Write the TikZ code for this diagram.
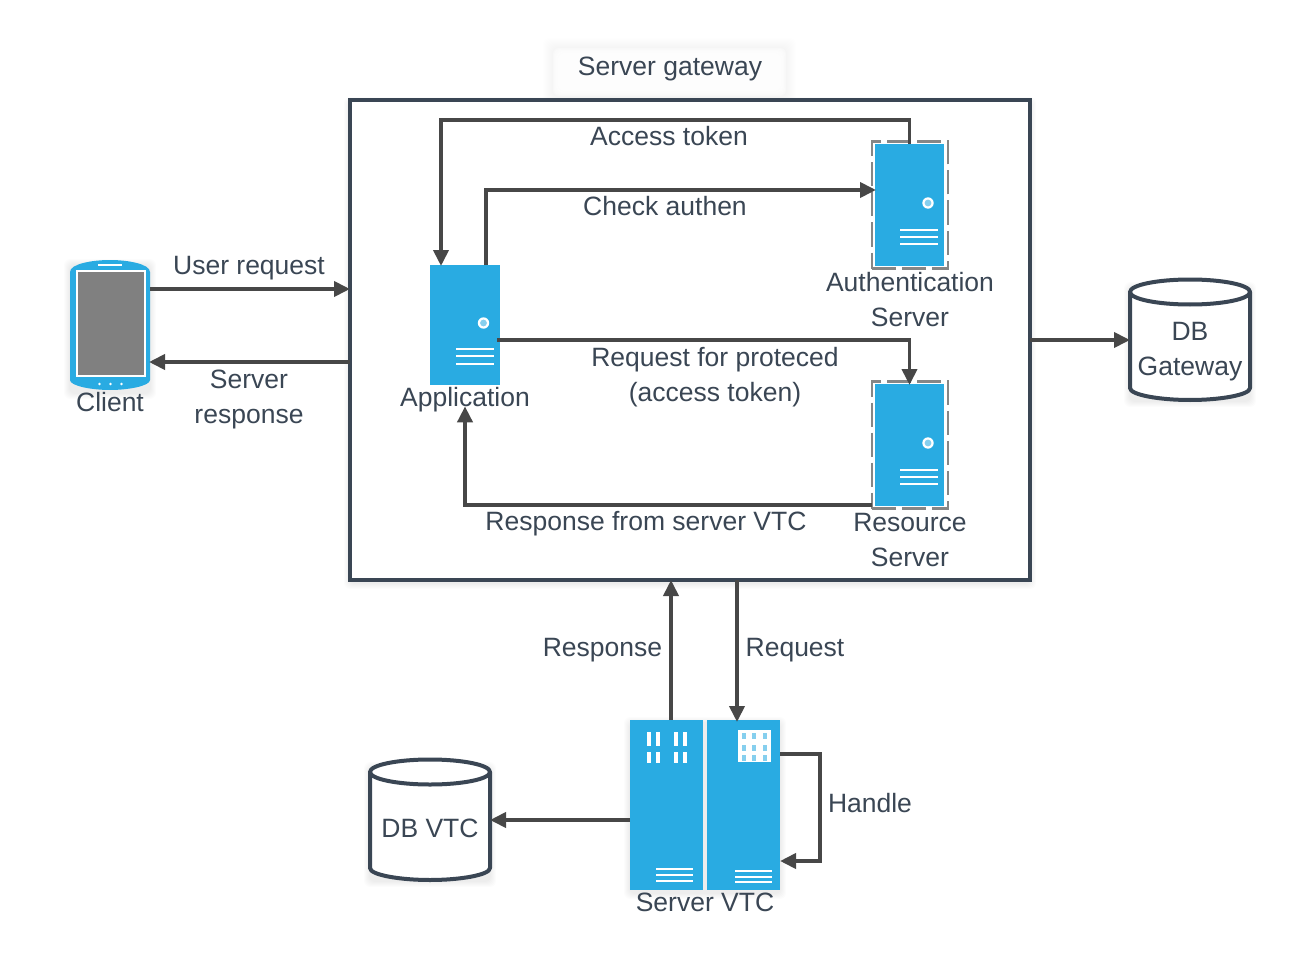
\documentclass[tikz,border=0pt]{standalone}
\usepackage{fontspec}
\setmainfont{Liberation Sans}
\usetikzlibrary{arrows.meta,calc}
\definecolor{lblue}{HTML}{29ABE2}
\definecolor{ink}{HTML}{3A4654}
\definecolor{wire}{HTML}{474747}
\definecolor{pale}{HTML}{86CFEE}
\newcommand{\softshade}[4]{%
  \foreach \g in {1,2,...,6}{%
    \fill[black,opacity=0.012,rounded corners=6pt] ({#1-\g},{#2-\g+3}) rectangle ({#3+\g},{#4+\g+3});}}
\tikzset{
  lbl/.style={text=ink,align=center,inner sep=0pt,outer sep=0pt,font=\fontsize{26.5}{35}\selectfont},
  bluebox/.style={fill=lblue,inner sep=0pt,outer sep=0pt,rectangle},
  arr/.style={draw=wire,line width=3.8pt,-{Triangle[length=16pt,width=15pt]}},
  dbline/.style={draw=ink,line width=4pt,line join=round},
  frame/.style={draw=ink,line width=4pt,inner sep=0pt,outer sep=0pt,minimum width=680,minimum height=480},
  dashbox/.style={draw=gray!95,line width=2.4pt,dash pattern=on 24pt off 6pt,fill=white,inner sep=0pt,outer sep=0pt},
  srvline/.style={draw=white,line width=2.8pt},
  ghost/.style={inner sep=0pt,outer sep=0pt,minimum width=120,minimum height=120}
}
\begin{document}
\begin{tikzpicture}[x=1pt,y=-1pt]
\useasboundingbox (0,0) rectangle (1290,960);
% soft shadows
\foreach \g in {0,1,...,9}{\fill[black,opacity=0.005,rounded corners=6pt] ({543+\g},{38+\g}) rectangle ({796-\g},{106-\g});}
\foreach \g in {10,11,...,16}{\fill[white,opacity=0.3,rounded corners=6pt] ({543+\g},{38+\g}) rectangle ({796-\g},{106-\g});}
\softshade{350}{100}{1030}{580}
\softshade{70}{262}{150}{390}
\softshade{430}{265}{500}{385}
\softshade{872}{142}{948}{269}
\softshade{872}{382}{948}{509}
\softshade{630}{720}{780}{890}
\softshade{1130}{285}{1250}{398}
\softshade{370}{765}{490}{878}
% gateway frame
\node[frame,fill=white] (gw) at (690,340) {};
\node[lbl] (gwl) at (670,69) {Server gateway};
% phone
\node[inner sep=0pt,outer sep=0pt,minimum width=80,minimum height=130] (phone) at (110,325) {};
\fill[lblue] (70,272) .. controls (70,264) and (92,260) .. (110,260) .. controls (128,260) and (150,264) .. (150,272)
  -- (150,380) .. controls (150,386) and (128,390) .. (110,390) .. controls (92,390) and (70,386) .. (70,380) -- cycle;
\fill[white] (76,270) rectangle (145.5,377);
\fill[black!50] (78,272) rectangle (143.5,375);
\draw[white,line width=1.8pt] (98,265) -- (122,265);
\foreach \xx in {99.5,110.5,121.5}{\fill[white] (\xx,384) circle (1.3);}
\node[lbl] (phonel) at (110,402) {Client};
% application
\node[bluebox,minimum width=70,minimum height=120] (app) at (465,325) {};
\fill[white] (483.5,323) circle (5.7);
\fill[pale] (483.5,323) circle (3.4);
\foreach \yy in {349,356,364}{\draw[srvline] (456,\yy) -- (493.5,\yy);}
\node[lbl] (appl) at (465,400) {Application};
% auth
\node[dashbox,minimum width=76,minimum height=127] (authd) at (910,205) {};
\node[bluebox,minimum width=69,minimum height=122] (auth) at (909.5,205) {};
\fill[white] (928,203) circle (5.7);
\fill[pale] (928,203) circle (3.4);
\foreach \yy in {230,237,244}{\draw[srvline] (900,\yy) -- (938,\yy);}
\node[lbl] (authl) at (910,300) {Authentication\\Server};
% resource
\node[dashbox,minimum width=76,minimum height=127] (resd) at (910,445) {};
\node[bluebox,minimum width=69,minimum height=122] (res) at (909.5,445) {};
\fill[white] (928,443) circle (5.7);
\fill[pale] (928,443) circle (3.4);
\foreach \yy in {470,477,484}{\draw[srvline] (900,\yy) -- (938,\yy);}
\node[lbl] (resl) at (910,540) {Resource\\Server};
% VTC servers
\node[bluebox,minimum width=72.5,minimum height=170] (vtcl) at (666.25,805) {};
\node[bluebox,minimum width=73,minimum height=170] (vtcr) at (743.5,805) {};
\foreach \xx in {646.5,655.5,673.5,682.5}{
  \fill[white] (\xx,732) rectangle ++(4,13.5);
  \fill[white] (\xx,752) rectangle ++(4,10.5);}
\foreach \yy in {869,875,881}{\draw[srvline] (656,\yy) -- (693,\yy);}
\fill[white] (738,730) rectangle (771,762);
\foreach \xx in {742,752,763}{\foreach \yy in {733,745,755}{\fill[pale] (\xx,\yy) rectangle ++(4,6);}}
\foreach \yy in {871,877,882}{\draw[srvline] (735,\yy) -- (772,\yy);}
\node[lbl] (vtcn) at (705,902) {Server VTC};
% cylinders
\node[ghost] (dbg) at (1190,340) {};
\fill[white] (1130,292) -- (1130,388) .. controls (1130,395) and (1160,400) .. (1190,400) .. controls (1220,400) and (1250,395) .. (1250,388) -- (1250,292) -- cycle;
\draw[dbline,fill=white] (1190,292) ellipse[x radius=60,y radius=12.5];
\draw[dbline] (1130,292) -- (1130,388) .. controls (1130,395) and (1160,400) .. (1190,400) .. controls (1220,400) and (1250,395) .. (1250,388) -- (1250,292);
\node[lbl] (dbgl) at (1190,352) {DB\\Gateway};
\node[ghost] (dbv) at (430,820) {};
\fill[white] (370,772) -- (370,868) .. controls (370,875) and (400,880) .. (430,880) .. controls (460,880) and (490,875) .. (490,868) -- (490,772) -- cycle;
\draw[dbline,fill=white] (430,772) ellipse[x radius=60,y radius=12.5];
\draw[dbline] (370,772) -- (370,868) .. controls (370,875) and (400,880) .. (430,880) .. controls (460,880) and (490,875) .. (490,868) -- (490,772);
\node[lbl] (dbvl) at (430,828) {DB VTC};
% labels
\node[lbl] (lat) at (669,136) {Access token};
\node[lbl] (lca) at (665,206) {Check authen};
\node[lbl] (lrq) at (715,377) {Request for proteced\\(access token)};
\node[lbl] (lrs) at (646,524) {Response from server VTC};
\node[lbl] (lur) at (249,268) {User request};
\node[lbl] (lsr) at (249,399) {Server\\response};
\node[lbl] (lres) at (602.5,650) {Response};
\node[lbl] (lreq) at (795,650) {Request};
\node[lbl] (lhan) at (870,803) {Handle};
% connectors
\draw[arr] (auth.north) -- ++(0,-24) -| ([shift={(-24,1)}]app.north);
\draw[arr] ([xshift=21pt]app.north) |- ([shift={(1,-15)}]auth.west);
\draw[arr] ([shift={(-3,15)}]app.east) -| ([yshift=-1pt]res.north);
\draw[arr] ([shift={(-3,60)}]res.west) -| ([yshift=6pt]appl.south);
\draw[arr] ([yshift=36pt]phone.east) -- ([yshift=51pt]gw.west);
\draw[arr] ([yshift=-22pt]gw.west) -- ([shift={(-1,37)}]phone.east);
\draw[arr] (gw.east) -- (dbg.west);
\draw[arr] ([xshift=4.75pt]vtcl.north) -- ([xshift=-19pt]gw.south);
\draw[arr] ([xshift=47pt]gw.south) -- ([shift={(-6.5,2)}]vtcr.north);
\draw[arr] ([yshift=51pt]vtcr.east) -- ++(40,0) |- ([yshift=-56pt]vtcr.east);
\draw[arr] ([yshift=-15pt]vtcl.west) -- (dbv.east);
\end{tikzpicture}
\end{document}
